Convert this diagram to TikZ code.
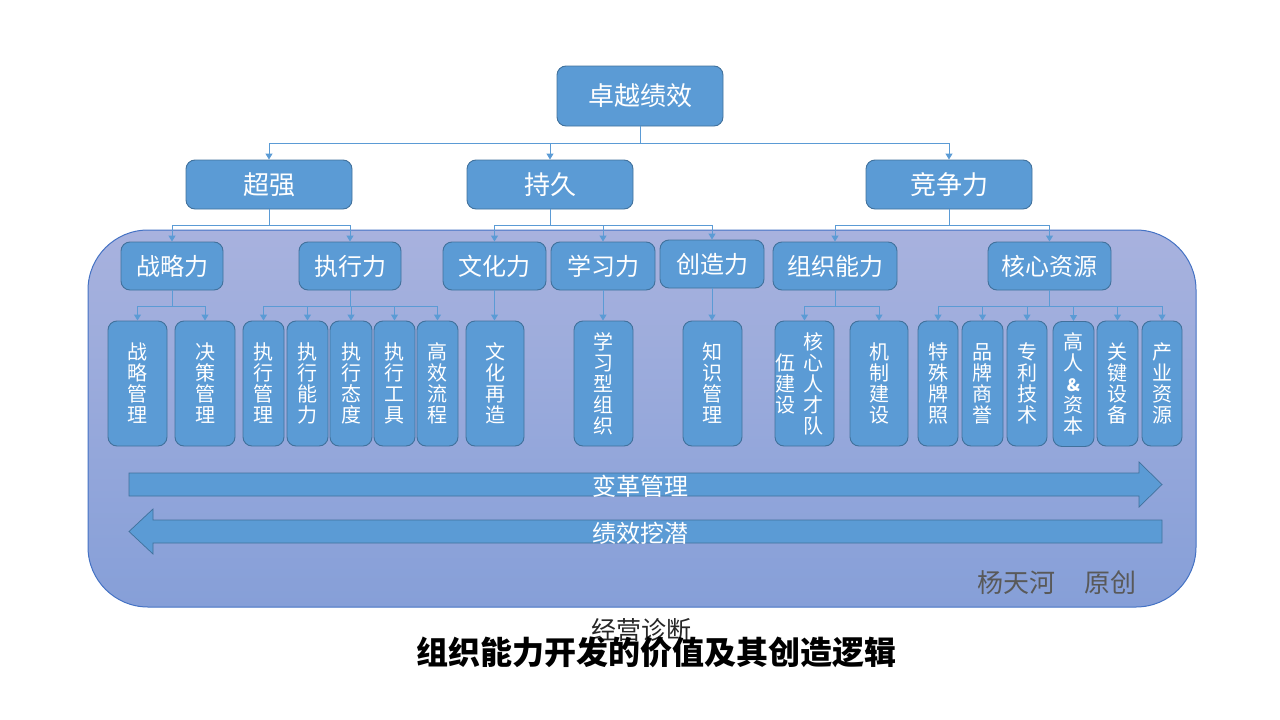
\documentclass[tikz,border=0pt]{standalone}
\usepackage{fontspec}
\setmainfont{Noto Sans CJK SC}
\usetikzlibrary{arrows.meta,calc}
\definecolor{boxfill}{RGB}{91,155,213}
\definecolor{boxline}{RGB}{65,113,156}
\definecolor{bgtop}{RGB}{168,178,222}
\definecolor{bgbot}{RGB}{134,159,216}
\definecolor{bgline}{RGB}{68,114,196}
\definecolor{grtxt}{RGB}{89,89,89}
\begin{document}
\begin{tikzpicture}[x=1pt,y=-1pt,
  box/.style={draw=boxline, fill=boxfill, line width=0.9pt, rounded corners=9pt, text=white, inner sep=0pt, align=center},
  big/.style={box, minimum width=166pt, font=\fontsize{26}{26}\selectfont},
  mid/.style={box, minimum height=48pt, font=\fontsize{24}{24}\selectfont},
  leaf/.style={box, minimum height=125pt, font=\fontsize{20}{21}\selectfont},
  vt/.style={font=\fontsize{20}{21}\selectfont, text=white, align=center, inner sep=0pt},
  conn/.style={draw=boxfill, line width=1pt, -{Triangle[length=6pt,width=7pt]}},
  trunk/.style={draw=boxfill, line width=1pt},
  bigarrow/.style={fill=boxfill, draw=boxline, line width=0.7pt},
  lbl/.style={font=\fontsize{24}{24}\selectfont, inner sep=0pt}]
\useasboundingbox (0,0) rectangle (1280,720);
% background panel
\path[draw=bgline, line width=1pt, top color=bgtop, bottom color=bgbot, rounded corners=60pt] (88,230) rectangle (1196,607);

% level 0
\node[big, minimum height=60pt] (top) at (640,96) {卓越绩效};
% level 1
\node[big, minimum height=49pt] (a1) at (269,184.5) {超强};
\node[big, minimum height=49pt] (a2) at (550,184.5) {持久};
\node[big, minimum height=49pt] (a3) at (949,184.5) {竞争力};
% level 2
\node[mid, minimum width=102pt] (b1) at (172,266) {战略力};
\node[mid, minimum width=102pt] (b2) at (350,266) {执行力};
\node[mid, minimum width=103pt] (b3) at (494.5,266) {文化力};
\node[mid, minimum width=104pt] (b4) at (603,266) {学习力};
\node[mid, minimum width=104pt] (b5) at (712,264) {创造力};
\node[mid, minimum width=124pt] (b6) at (835,266) {组织能力};
\node[mid, minimum width=123pt] (b7) at (1049.5,266) {核心资源};
% level 3
\node[leaf, minimum width=59pt] (d1) at (137.5,383.5) {战\\略\\管\\理};
\node[leaf, minimum width=60pt] (d2) at (205,383.5) {决\\策\\管\\理};
\node[leaf, minimum width=41pt] (d3) at (263.5,383.5) {执\\行\\管\\理};
\node[leaf, minimum width=41pt] (d4) at (307.5,383.5) {执\\行\\能\\力};
\node[leaf, minimum width=42pt] (d5) at (351,383.5) {执\\行\\态\\度};
\node[leaf, minimum width=41pt] (d6) at (394.5,383.5) {执\\行\\工\\具};
\node[leaf, minimum width=41pt] (d7) at (437.5,383.5) {高\\效\\流\\程};
\node[leaf, minimum width=58pt] (d8) at (495,383.5) {文\\化\\再\\造};
\node[leaf, minimum width=59pt] (d9) at (603.5,383.5) {学\\习\\型\\组\\织};
\node[leaf, minimum width=59pt] (d10) at (712.5,383.5) {知\\识\\管\\理};
\node[leaf, minimum width=59pt] (d11) at (804.5,383.5) {};
\node[vt] (d11a) at (813,383.5) {核\\心\\人\\才\\队};
\node[vt] (d11b) at (785,384) {伍\\建\\设};
\node[leaf, minimum width=58pt] (d12) at (879,383.5) {机\\制\\建\\设};
\node[leaf, minimum width=40pt] (d13) at (938,383.5) {特\\殊\\牌\\照};
\node[leaf, minimum width=41pt] (d14) at (982.5,383.5) {品\\牌\\商\\誉};
\node[leaf, minimum width=40pt] (d15) at (1027,383.5) {专\\利\\技\\术};
\node[leaf, minimum width=41pt] (d16) at (1073.5,384) {高\\人\\{\fontsize{17}{17}\selectfont\bfseries\&}\\资\\本};
\node[leaf, minimum width=41pt] (d17) at (1117.5,383.5) {关\\键\\设\\备};
\node[leaf, minimum width=40pt] (d18) at (1162,383.5) {产\\业\\资\\源};

% connectors level 0 -> 1
\coordinate (j0) at (640,143);
\draw[trunk] (top.south) -- (j0);
\foreach \c in {a1,a2,a3} \draw[conn] (j0) -| (\c.north);
% level 1 -> 2
\coordinate (j1) at (269,225);
\draw[trunk] (a1.south) -- (j1);
\foreach \c in {b1,b2} \draw[conn] (j1) -| (\c.north);
\coordinate (j2) at (550,225);
\draw[trunk] (a2.south) -- (j2);
\foreach \c in {b3,b4,b5} \draw[conn] (j2) -| (\c.north);
\coordinate (j3) at (949,225);
\draw[trunk] (a3.south) -- (j3);
\foreach \c in {b6,b7} \draw[conn] (j3) -| (\c.north);
% level 2 -> 3
\coordinate (k1) at (172,306);
\draw[trunk] (b1.south) -- (k1);
\foreach \c in {d1,d2} \draw[conn] (k1) -| (\c.north);
\coordinate (k2) at (350,306);
\draw[trunk] (b2.south) -- (k2);
\foreach \c in {d3,d4,d5,d6,d7} \draw[conn] (k2) -| (\c.north);
\draw[conn] (b3.south) -- (b3.south |- d8.north);
\draw[conn] (b4.south) -- (b4.south |- d9.north);
\draw[conn] (b5.south) -- (b5.south |- d10.north);
\coordinate (k3) at (835,306);
\draw[trunk] (b6.south) -- (k3);
\foreach \c in {d11,d12} \draw[conn] (k3) -| (\c.north);
\coordinate (k4) at (1049.5,306);
\draw[trunk] (b7.south) -- (k4);
\foreach \c in {d13,d14,d15,d16,d17,d18} \draw[conn] (k4) -| (\c.north);

% big arrows
\path[bigarrow] (129,473) -- (1139,473) -- (1139,462) -- (1162,484.5) -- (1139,507) -- (1139,496) -- (129,496) -- cycle;
\path[bigarrow] (1162,520) -- (153,520) -- (153,509) -- (129,531.5) -- (153,554) -- (153,543) -- (1162,543) -- cycle;
\node[lbl, text=white] (t1) at (640,486) {变革管理};
\node[lbl, text=white] (t2) at (640,533) {绩效挖潜};

% signature and titles
\node[inner sep=0pt, font=\fontsize{26}{26}\selectfont, text=grtxt] (sig) at (1057,583) {杨天河\hspace{30pt}原创};
\node[inner sep=0pt, font=\fontsize{25}{25}\selectfont, text=black!85] (sub) at (641,630) {经营诊断};
\node[inner sep=0pt, font=\fontsize{32}{32}\selectfont\bfseries] (title) at (656,652) {组织能力开发的价值及其创造逻辑};
\end{tikzpicture}
\end{document}
